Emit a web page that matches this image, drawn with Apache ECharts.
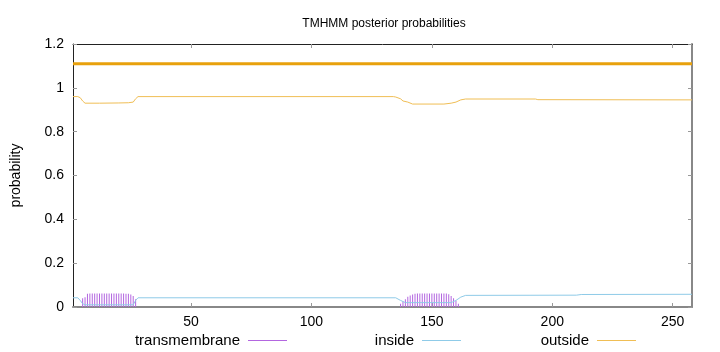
<!DOCTYPE html>
<html>
<head>
<meta charset="utf-8">
<script src="https://cdn.jsdelivr.net/npm/echarts@6/dist/echarts.min.js"></script>
<style>html,body{margin:0;padding:0;background:#fff}#c{width:720px;height:352px}</style>
</head>
<body>
<div id="c"></div>
<script>
// ---- data ----
const seqStart = 1;
const seqEnd = 258;
const xTickValues = [50, 100, 150, 200, 250];

// topology line (predicted: outside over whole sequence)
const topoPos = [1, 258];
const topoVal = [1.11, 1.11];

// outside posterior (breakpoints)
const outsidePos = [1, 3, 4, 5, 6, 12, 20, 24, 26, 27, 28, 134, 135, 137, 138, 140, 142, 155, 158, 160, 162, 164, 193, 194, 258];
const outsideVal = [0.96, 0.96, 0.955, 0.94, 0.93, 0.93, 0.931, 0.932, 0.935, 0.95, 0.96, 0.96, 0.958, 0.95, 0.94, 0.935, 0.926, 0.926, 0.93, 0.935, 0.945, 0.949, 0.949, 0.946, 0.945];

// inside posterior (breakpoints)
const insidePos = [1, 3, 4, 5, 6, 26, 27, 28, 135, 137, 139, 158, 160, 162, 164, 210, 212, 258];
const insideVal = [0.042, 0.042, 0.03, 0.015, 0.01, 0.01, 0.03, 0.042, 0.042, 0.03, 0.02, 0.02, 0.03, 0.045, 0.053, 0.054, 0.057, 0.058];

// transmembrane posterior (impulses at each residue)
const tmPos = [5, 6, 7, 8, 9, 10, 11, 12, 13, 14, 15, 16, 17, 18, 19, 20, 21, 22, 23, 24, 25, 26, 27,
  137, 138, 139, 140, 141, 142, 143, 144, 145, 146, 147, 148, 149, 150, 151, 152, 153, 154, 155, 156, 157, 158, 159, 160, 161];
const tmVal = [0.04, 0.045, 0.06, 0.062, 0.062, 0.062, 0.062, 0.062, 0.062, 0.062, 0.062, 0.062, 0.062, 0.062, 0.062, 0.062, 0.062, 0.062, 0.061, 0.06, 0.057, 0.05, 0.035,
  0.015, 0.025, 0.035, 0.047, 0.052, 0.057, 0.06, 0.062, 0.062, 0.062, 0.062, 0.062, 0.062, 0.062, 0.062, 0.062, 0.062, 0.062, 0.062, 0.062, 0.058, 0.05, 0.04, 0.028, 0.015];

const pairs = (p, v) => p.map((x, i) => [x, v[i]]);

const FONT = 'Liberation Sans, Arial, sans-serif';
const chart = echarts.init(document.getElementById('c'), null, {renderer: 'canvas'});
const tickGray = '#999';

const legendBase = {
  orient: 'horizontal', align: 'right', icon: 'rect', itemWidth: 39, itemHeight: 1,
  top: 333, padding: 0, selectedMode: false,
  textStyle: {fontFamily: FONT, fontSize: 15, color: '#000', padding: [0, 3, 0, 0]}
};

chart.setOption({
  animation: false,
  backgroundColor: '#fff',
  title: {
    text: 'TMHMM posterior probabilities', left: 379, top: 13, textAlign: 'center',
    textStyle: {fontFamily: FONT, fontSize: 12, fontWeight: 'normal', color: '#000'}
  },
  legend: [
    Object.assign({}, legendBase, {right: 433, data: ['transmembrane']}),
    Object.assign({}, legendBase, {right: 259, data: ['inside']}),
    Object.assign({}, legendBase, {right: 84, data: ['outside']})
  ],
  grid: {left: 73, right: 28, top: 44, bottom: 45, containLabel: false},
  xAxis: [{
    type: 'value', min: seqStart, max: seqEnd, position: 'bottom',
    axisLine: {show: true, lineStyle: {color: '#888', width: 2}},
    axisTick: {show: true, inside: true, length: 4, lineStyle: {color: tickGray}, customValues: xTickValues},
    axisLabel: {show: true, customValues: xTickValues, fontFamily: FONT, fontSize: 14, color: '#000', margin: 8},
    splitLine: {show: false}
  }, {
    type: 'value', min: seqStart, max: seqEnd, position: 'top',
    axisLine: {show: true, onZero: false, lineStyle: {color: '#222', width: 1}},
    axisTick: {show: true, inside: true, length: 4, lineStyle: {color: tickGray}, customValues: xTickValues},
    axisLabel: {show: false},
    splitLine: {show: false}
  }],
  yAxis: [{
    type: 'value', min: 0, max: 1.2, interval: 0.2, position: 'left',
    name: 'probability', nameLocation: 'middle', nameGap: 50, nameRotate: 90,
    nameTextStyle: {fontFamily: FONT, fontSize: 14, color: '#000'},
    axisLine: {show: true, lineStyle: {color: '#222', width: 1}},
    axisTick: {show: true, inside: true, length: 4, lineStyle: {color: tickGray}},
    axisLabel: {fontFamily: FONT, fontSize: 14, color: '#000', margin: 9},
    splitLine: {show: false}
  }, {
    type: 'value', min: 0, max: 1.2, interval: 0.2, position: 'right',
    axisLine: {show: true, lineStyle: {color: '#888', width: 2}},
    axisTick: {show: true, inside: true, length: 4, lineStyle: {color: tickGray}},
    axisLabel: {show: false},
    splitLine: {show: false}
  }],
  series: [
    {
      name: 'topology', type: 'line', data: pairs(topoPos, topoVal), symbol: 'none',
      lineStyle: {color: '#e8a10c', width: 3}, itemStyle: {color: '#e8a10c'}, silent: true, z: 3
    },
    {
      name: 'transmembrane', type: 'bar', data: pairs(tmPos, tmVal), barWidth: 1,
      itemStyle: {color: '#b366e0'}, z: 2
    },
    {
      name: 'inside', type: 'line', data: pairs(insidePos, insideVal), symbol: 'none',
      lineStyle: {color: '#8fcbe8', width: 1}, itemStyle: {color: '#8fcbe8'}, z: 3
    },
    {
      name: 'outside', type: 'line', data: pairs(outsidePos, outsideVal), symbol: 'none',
      lineStyle: {color: '#f0be55', width: 1}, itemStyle: {color: '#f0be55'}, z: 3
    }
  ]
});
</script>
</body>
</html>
